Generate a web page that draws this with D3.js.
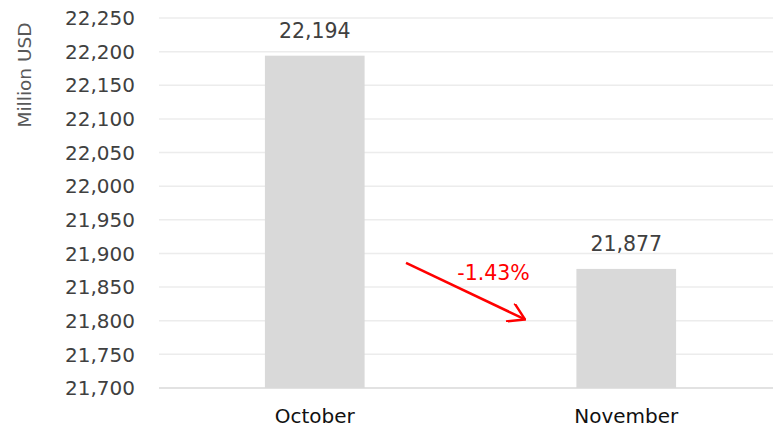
<!DOCTYPE html>
<html>
<head>
<meta charset="utf-8">
<script src="https://cdn.jsdelivr.net/npm/d3@7"></script>
<style>
  body { margin: 0; background: #fff; }
  svg { display: block; font-family: "DejaVu Sans", Verdana, sans-serif; }
</style>
</head>
<body>
<svg id="chart" width="773" height="428"></svg>
<script>
// chart data
var months = ['October', 'November'];
var values = [22194, 21877];
var yTicks = [21700, 21750, 21800, 21850, 21900, 21950, 22000, 22050, 22100, 22150, 22200, 22250];
var changeLabel = '-1.43%';
// arrow annotation, in data terms: [fraction of band step, value]
var arrowFrom = [0.453, 21886];
var arrowTo = [0.165, 21802];

var svg = d3.select('#chart');
var margin = { left: 159, right: -9, top: 18, bottom: 40 };
var width = 773 - margin.left - margin.right;
var height = 428 - margin.top - margin.bottom;

var x = d3.scaleBand().domain(months).range([0, width]).paddingInner(0.68).paddingOuter(0.34);
var y = d3.scaleLinear().domain([21700, 22250]).range([height, 0]);

var g = svg.append('g').attr('transform', 'translate(' + margin.left + ',' + margin.top + ')');

// gridlines
g.selectAll('.grid')
    .data(yTicks.slice(1))
    .enter().append('line')
    .attr('class', 'grid')
    .attr('x1', 0).attr('x2', width)
    .attr('y1', y).attr('y2', y)
    .attr('stroke', '#ececec').attr('stroke-width', 1.5);

// y tick labels
g.selectAll('.ytick')
    .data(yTicks)
    .enter().append('text')
    .attr('x', -24)
    .attr('y', y)
    .attr('dy', '0.36em')
    .attr('text-anchor', 'end')
    .attr('font-size', 20)
    .attr('fill', '#404040')
    .text(d3.format(','));

// bars
g.selectAll('.bar')
    .data(values)
    .enter().append('rect')
    .attr('x', function (d, i) { return x(months[i]); })
    .attr('y', y)
    .attr('width', x.bandwidth())
    .attr('height', function (d) { return height - y(d); })
    .attr('fill', '#d9d9d9');

// baseline
g.append('line')
    .attr('x1', 0).attr('x2', width)
    .attr('y1', height).attr('y2', height)
    .attr('stroke', '#d9d9d9').attr('stroke-width', 1.5);

// value labels
g.selectAll('.val')
    .data(values)
    .enter().append('text')
    .attr('x', function (d, i) { return x(months[i]) + x.bandwidth() / 2; })
    .attr('y', function (d) { return y(d) - 18; })
    .attr('text-anchor', 'middle')
    .attr('font-size', 20.5)
    .attr('fill', '#404040')
    .text(d3.format(','));

// category labels
g.selectAll('.cat')
    .data(months)
    .enter().append('text')
    .attr('x', function (d) { return x(d) + x.bandwidth() / 2; })
    .attr('y', height + 35)
    .attr('text-anchor', 'middle')
    .attr('font-size', 20)
    .attr('fill', '#111')
    .text(function (d) { return d; });

// y axis title
svg.append('text')
    .attr('transform', 'translate(31,75) rotate(-90)')
    .attr('text-anchor', 'middle')
    .attr('font-size', 18.5)
    .attr('fill', '#595959')
    .text('Million USD');

// change arrow
var step = x.step();
var ax1 = x(months[0]) + arrowFrom[0] * step, ay1 = y(arrowFrom[1]);
var ax2 = x(months[1]) - arrowTo[0] * step, ay2 = y(arrowTo[1]);
svg.append('defs').append('marker')
    .attr('id', 'head')
    .attr('viewBox', '0 0 20 20')
    .attr('refX', 19).attr('refY', 10)
    .attr('markerWidth', 20).attr('markerHeight', 20)
    .attr('markerUnits', 'userSpaceOnUse')
    .attr('orient', 'auto')
    .append('path')
    .attr('d', 'M2.7,0 L19,10 L2.7,20')
    .attr('fill', 'none').attr('stroke', '#ff0000').attr('stroke-width', 2.5);
g.append('line')
    .attr('x1', ax1).attr('y1', ay1)
    .attr('x2', ax2).attr('y2', ay2)
    .attr('stroke', '#ff0000').attr('stroke-width', 2.5)
    .attr('marker-end', 'url(#head)');
g.append('text')
    .attr('x', (ax1 + ax2) / 2 + 28)
    .attr('y', ay1 + 17)
    .attr('text-anchor', 'middle')
    .attr('font-size', 20.5)
    .attr('fill', '#ff0000')
    .text(changeLabel);
</script>
</body>
</html>
